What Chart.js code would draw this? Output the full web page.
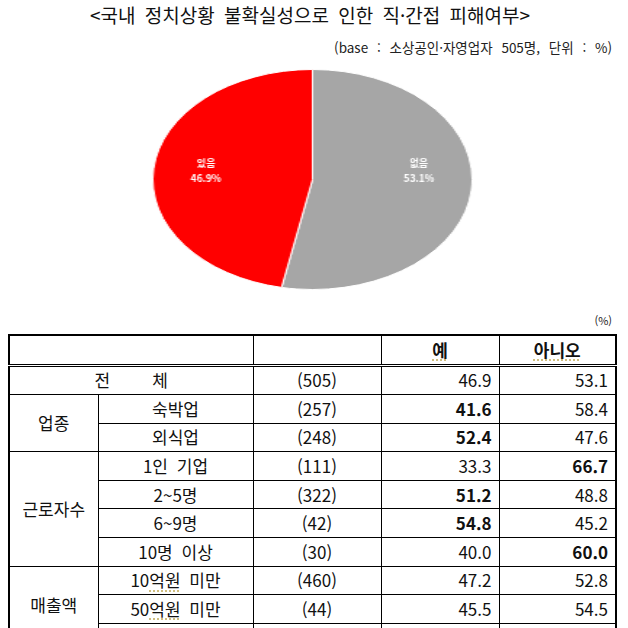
<!DOCTYPE html>
<html lang="ko">
<head>
<meta charset="utf-8">
<script src="https://cdn.jsdelivr.net/npm/chart.js@4.4.1/dist/chart.umd.min.js"></script>
<style>
  html, body { margin:0; padding:0; background:#fff; }
  body { width:628px; height:628px; overflow:hidden; position:relative;
         font-family:"Noto Sans CJK KR","Noto Sans",sans-serif; color:#111; }
  #title { position:absolute; left:0; width:620px; top:1px; text-align:center;
           font-size:19px; line-height:28px; word-spacing:4px; white-space:nowrap; color:#111; }
  #subtitle { position:absolute; right:16px; top:37px; font-size:13.5px; line-height:20px; word-spacing:5px; white-space:nowrap; color:#222; }
  #pieWrap { position:absolute; left:202px; top:69px; width:221px; height:221px;
             transform:scaleX(1.452); transform-origin:50% 50%; }
  #unit { position:absolute; right:16px; top:312px; font-size:11px; line-height:16px; color:#222; }
  #tbl { position:absolute; left:8px; top:334px; width:607px; border-collapse:collapse;
         table-layout:fixed; font-size:17px; }
  #tbl td { border:1px solid #000; padding:0; height:27.6px; line-height:20px; white-space:nowrap; }
  #tbl tr.hdr td { height:27.5px; border-bottom:3px double #000; font-weight:bold; text-align:center; }
  #tbl .grp { text-align:center; border-left:2px solid #000; }
  #tbl .lbl { text-align:center; word-spacing:4px; }
  #tbl .n { text-align:center; }
  #tbl .v { text-align:right; padding-right:7px; }
  #tbl .last { border-right:2px solid #000; }
  #tbl tr.hdr td { border-top:2px solid #000; }
  .sq { text-decoration:underline dotted #c9b46a; text-underline-offset:3px; }
  #caret { position:absolute; left:615px; top:547px; width:2px; height:18px; background:#000; }
</style>
</head>
<body>
<div id="title"></div>
<div id="subtitle"></div>
<div id="pieWrap"><canvas id="pie" width="221" height="221"></canvas></div>
<div id="unit">(%)</div>
<table id="tbl">
  <colgroup>
    <col style="width:89px"><col style="width:155px"><col style="width:128px"><col style="width:118px"><col style="width:117px">
  </colgroup>
  <tbody id="tb"></tbody>
</table>
<div id="caret"></div>
<script>
// ---- text ----
const titleText = '<국내 정치상황 불확실성으로 인한 직·간접 피해여부>';
const subtitleText = '(base : 소상공인·자영업자 505명, 단위 : %)';

// ---- pie data ----
const pieLabels = ['없음', '있음'];
const pieValues = [53.1, 46.9];
const pieColors = ['#a6a6a6', '#ff0000'];

// ---- table data ----
const headerCols = ['', '', '예', '아니오'];
const rowGroups = ['', '업종', '업종', '근로자수', '근로자수', '근로자수', '근로자수', '매출액', '매출액', '매출액'];
const rowLabels = ['전 체', '숙박업', '외식업', '1인 기업', '2~5명', '6~9명', '10명 이상', '10억원 미만', '50억원 미만', ''];
const baseN = ['(505)', '(257)', '(248)', '(111)', '(322)', '(42)', '(30)', '(460)', '(44)', ''];
const yesPct = ['46.9', '41.6', '52.4', '33.3', '51.2', '54.8', '40.0', '47.2', '45.5', ''];
const noPct = ['53.1', '58.4', '47.6', '66.7', '48.8', '45.2', '60.0', '52.8', '54.5', ''];
const boldYes = [false, true, true, false, true, true, false, false, false, false];
const boldNo = [false, false, false, true, false, false, true, false, false, false];

document.getElementById('title').textContent = titleText;
document.getElementById('subtitle').textContent = subtitleText;

// build table
const tb = document.getElementById('tb');
function td(text, cls) {
  const c = document.createElement('td');
  if (cls) c.className = cls;
  c.textContent = text;
  return c;
}
{
  const tr = document.createElement('tr'); tr.className = 'hdr';
  const c0 = td('', 'grp'); c0.colSpan = 2; tr.appendChild(c0);
  tr.appendChild(td(headerCols[1], ''));
  const cy = document.createElement('td'); cy.innerHTML = '<span class="sq">' + headerCols[2] + '</span>'; tr.appendChild(cy);
  const cn = document.createElement('td'); cn.className = 'last'; cn.innerHTML = '<span class="sq">' + headerCols[3] + '</span>'; tr.appendChild(cn);
  tb.appendChild(tr);
}
for (let i = 0; i < rowLabels.length; i++) {
  const tr = document.createElement('tr');
  if (rowGroups[i] === '') {
    const c = document.createElement('td'); c.colSpan = 2; c.className = 'grp';
    const parts = rowLabels[i].split(' ');
    c.innerHTML = '<span style="padding-right:42px">' + parts[0] + '</span><span>' + parts[1] + '</span>';
    tr.appendChild(c);
  } else {
    if (i === 0 || rowGroups[i] !== rowGroups[i - 1]) {
      let span = 1;
      while (i + span < rowGroups.length && rowGroups[i + span] === rowGroups[i]) span++;
      const g = td(rowGroups[i], 'grp'); g.rowSpan = span;
      if (rowGroups[i] === '매출액') { g.style.verticalAlign = 'top'; g.style.paddingTop = '28px'; }
      tr.appendChild(g);
    }
    const l = document.createElement('td'); l.className = 'lbl';
    l.innerHTML = rowLabels[i].replace('억원', '<span class="sq">억원</span>');
    tr.appendChild(l);
  }
  tr.appendChild(td(baseN[i], 'n'));
  const y = td(yesPct[i], 'v'); if (boldYes[i]) y.style.fontWeight = 'bold'; tr.appendChild(y);
  const n = td(noPct[i], 'v last'); if (boldNo[i]) n.style.fontWeight = 'bold'; tr.appendChild(n);
  tb.appendChild(tr);
}

// pie
const SX = 1.452;
const labelPlugin = {
  id: 'sliceLabels',
  afterDatasetsDraw(chart) {
    const ctx = chart.ctx;
    const meta = chart.getDatasetMeta(0);
    meta.data.forEach((arc, i) => {
      const p = arc.getProps(['x', 'y', 'startAngle', 'endAngle', 'outerRadius'], true);
      const mid = (p.startAngle + p.endAngle) / 2;
      const r = p.outerRadius * 0.67;
      const px = p.x + Math.cos(mid) * r;
      const py = p.y - 9;
      ctx.save();
      ctx.translate(px, py);
      ctx.scale(1 / SX, 1);
      ctx.fillStyle = '#fff';
      ctx.textAlign = 'center';
      ctx.textBaseline = 'middle';
      ctx.font = 'bold 10px "Noto Sans CJK KR", sans-serif';
      ctx.fillText(chart.data.labels[i], 0, -7.5);
      ctx.fillText(chart.data.datasets[0].data[i].toFixed(1) + '%', 0, 7.5);
      ctx.restore();
    });
  }
};
new Chart(document.getElementById('pie'), {
  type: 'pie',
  data: {
    labels: pieLabels,
    datasets: [{ data: pieValues, backgroundColor: pieColors, borderColor: '#ffffff', borderWidth: 1 }]
  },
  options: {
    responsive: false,
    animation: false,
    layout: { padding: 0 },
    plugins: { legend: { display: false }, tooltip: { enabled: false } }
  },
  plugins: [labelPlugin]
});
</script>
</body>
</html>
